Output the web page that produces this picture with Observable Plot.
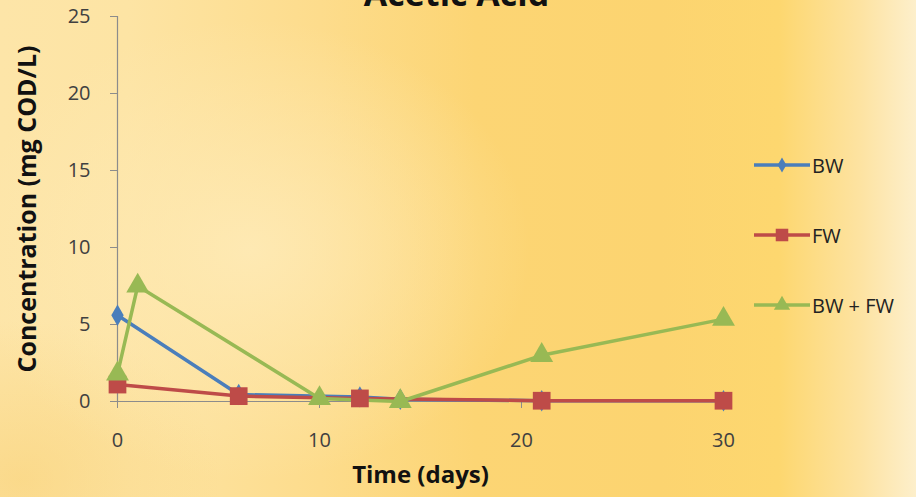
<!DOCTYPE html>
<html>
<head>
<meta charset="utf-8">
<script src="https://cdn.jsdelivr.net/npm/d3@7"></script>
<script src="https://cdn.jsdelivr.net/npm/@observablehq/plot@0.6"></script>
<style>
  html, body { margin: 0; padding: 0; }
  body {
    width: 916px; height: 497px; overflow: hidden; position: relative;
    font-family: "Open Sans", sans-serif;
    background:
      radial-gradient(ellipse 280px 230px at 250px 250px, rgba(254,234,182,0.9), rgba(254,234,182,0) 100%),
      radial-gradient(ellipse 200px 160px at 20px 480px, rgba(248,206,110,0.5), rgba(248,206,110,0) 100%),
      linear-gradient(90deg, #fde5a8 0%, #fde4a4 14%, #fddc8c 35%, #fcd574 52%, #fcd470 72%, #fdd76f 85%, #fde3a2 94%, #fdefcb 100%);
  }
  #chart { position: absolute; left: 0; top: 0; }
  #chart svg { background: transparent; overflow: visible; }
  .legend { position: absolute; left: 752px; font-family: "Open Sans", sans-serif; font-size: 20px; color: #222; display: flex; align-items: center; white-space: nowrap; }
  .legend svg { display: block; margin-right: 2px; }
</style>
</head>
<body>
<div id="chart"></div>
<div id="legend"></div>
<script>
const title = "Acetic Acid";
const xLabel = "Time (days)";
const yLabel = "Concentration (mg COD/L)";
const seriesNames = ["BW", "FW", "BW + FW"];
const seriesColors = ["#4a7ebb", "#be4b48", "#98b954"];
const seriesSymbols = ["diamond", "square", "triangle"];
const seriesR = [6.5, 10, 8.5];
const xTicks = [0, 10, 20, 30];
const yTicks = [0, 5, 10, 15, 20, 25];

const bwDays = [0, 6, 12, 14, 21, 30];
const bwValues = [5.6, 0.45, 0.3, 0.15, 0.05, 0.05];
const fwDays = [0, 6, 12, 21, 30];
const fwValues = [1.1, 0.35, 0.2, 0.05, 0.05];
const mixDays = [0, 1, 10, 14, 21, 30];
const mixValues = [1.8, 7.5, 0.2, 0.0, 3.0, 5.35];

const rows = [];
bwDays.forEach((d, i) => rows.push({series: "BW", day: d, value: bwValues[i]}));
fwDays.forEach((d, i) => rows.push({series: "FW", day: d, value: fwValues[i]}));
mixDays.forEach((d, i) => rows.push({series: "BW + FW", day: d, value: mixValues[i]}));

const marks = [];
seriesNames.forEach((s, i) => {
  const data = rows.filter(r => r.series === s);
  marks.push(Plot.line(data, {x: "day", y: "value", stroke: seriesColors[i], strokeWidth: 3.5}));
});
seriesNames.forEach((s, i) => {
  const data = rows.filter(r => r.series === s);
  marks.push(Plot.dot(data, {x: "day", y: "value", fill: seriesColors[i], stroke: "none", symbol: seriesSymbols[i], r: seriesR[i]}));
});

const plot = Plot.plot({
  width: 916,
  height: 497,
  marginLeft: 117,
  marginRight: 193,
  marginTop: 16,
  marginBottom: 96,
  style: {background: "transparent", fontFamily: "Open Sans, sans-serif", overflow: "visible"},
  x: {domain: [0, 30]},
  y: {domain: [0, 25]},
  marks: [
    Plot.ruleY([0], {stroke: "#8c8c8c", strokeWidth: 1.2}),
    Plot.ruleX([0], {stroke: "#8c8c8c", strokeWidth: 1.2}),
    Plot.axisY({ticks: yTicks, tickSize: 7, tickPadding: 20, fontSize: 20, label: null, stroke: "#8c8c8c", color: "#404040"}),
    Plot.axisX({ticks: xTicks, tickSize: 7, tickPadding: 24, fontSize: 20, label: null, stroke: "#8c8c8c", color: "#404040"}),
    Plot.text([yLabel], {frameAnchor: "left", textAnchor: "middle", rotate: -90, dx: -90, fontSize: 25, fontWeight: "bold", fill: "#111"}),
    Plot.text([xLabel], {frameAnchor: "bottom", dy: 81, fontSize: 24, fontWeight: "bold", fill: "#111"}),
    Plot.text([title], {frameAnchor: "top", dx: 36, dy: -35, fontSize: 34, fontWeight: "bold", fill: "#111"}),
    ...marks
  ]
});
document.getElementById("chart").appendChild(plot);

// legend
const legendTops = [165, 235, 305];
const legendDiv = document.getElementById("legend");
seriesNames.forEach((s, i) => {
  const item = document.createElement("div");
  item.className = "legend";
  item.style.top = (legendTops[i] - 13) + "px";
  item.style.height = "26px";
  const svg = d3.create("svg").attr("width", 58).attr("height", 26);
  svg.append("line").attr("x1", 2).attr("x2", 58).attr("y1", 13).attr("y2", 13)
    .attr("stroke", seriesColors[i]).attr("stroke-width", 3.5);
  const sym = {diamond: d3.symbolDiamond, square: d3.symbolSquare, triangle: d3.symbolTriangle}[seriesSymbols[i]];
  const size = Math.PI * seriesR[i] * seriesR[i] * 0.5;
  svg.append("path").attr("d", d3.symbol(sym, size)()).attr("transform", "translate(30,13)").attr("fill", seriesColors[i]);
  item.appendChild(svg.node());
  const t = document.createElement("span");
  t.textContent = s;
  item.appendChild(t);
  legendDiv.appendChild(item);
});
</script>
</body>
</html>
